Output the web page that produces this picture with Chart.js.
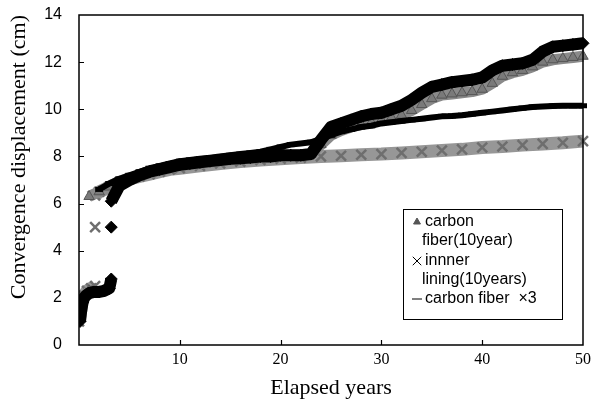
<!DOCTYPE html>
<html><head><meta charset="utf-8">
<script src="https://cdn.jsdelivr.net/npm/chart.js@4.4.1/dist/chart.umd.min.js"></script>
<style>html,body{margin:0;padding:0;background:#fff}</style>
</head><body>
<canvas id="c" width="591" height="405"></canvas>
<script>
// ---- data (null = break between measured segments) ----
const xTickValues = [0, 10, 20, 30, 40, 50];
const yTickValues = [0, 2, 4, 6, 8, 10, 12, 14];

const diamondYears = [0.1,0.2,0.35,0.5,0.7,1,1.5,2,2.5,3,3.2, 3.2, 3.2, 3.2, 3.2,4,5,6,7,8,9,10,11,12,13,14,15,16,17,18,19,20,21,22,23,24,25,26,27,28,29,30,31,32,33,34,35,36,37,38,39,40,41,42,43,44,45,46,47,48,49,50];
const diamondVals  = [1.0,1.4,1.8,2.0,2.1,2.2,2.25,2.25,2.3,2.4,2.8, null, 5.0, null, 6.1,6.75,7.0,7.2,7.35,7.45,7.55,7.65,7.7,7.75,7.8,7.85,7.9,7.92,7.95,8.0,8.0,8.05,8.05,8.05,8.1,8.7,9.25,9.4,9.55,9.7,9.8,9.85,10.0,10.15,10.4,10.7,10.95,11.05,11.15,11.2,11.25,11.35,11.65,11.85,11.9,11.95,12.1,12.45,12.65,12.7,12.75,12.8];

const triangleYears = [0.1,0.3,0.6,1, 1, 1,2,3,4,5,6,7,8,9,10,11,12,13,14,15,16,17,18,19,20,21,22,23,24,25,26,27,28,29,30,31,32,33,34,35,36,37,38,39,40,41,42,43,44,45,46,47,48,49,50];
const triangleVals  = [1.2,1.8,2.1,2.3, null, 6.3,6.5,6.7,6.9,7.05,7.2,7.3,7.4,7.5,7.6,7.65,7.7,7.75,7.8,7.85,7.9,7.92,7.95,8.0,8.0,8.05,8.05,8.1,8.5,8.9,9.1,9.25,9.35,9.45,9.55,9.65,9.75,9.95,10.2,10.45,10.6,10.65,10.7,10.75,10.85,11.1,11.4,11.55,11.65,11.8,12.0,12.1,12.15,12.2,12.25];

const liningYears = [0,0.15,0.3,0.5,0.8,1.2,1.6, 1.6, 1.6, 1.6, 1.6,2,3,4,5,6,7,8,9,10,12,14,16,18,20,22,24,26,28,30,32,34,36,38,40,42,44,46,48,50];
const liningVals  = [1.0,1.4,1.8,2.1,2.3,2.4,2.5, null, 5.0, null, 6.35,6.5,6.7,6.9,7.05,7.15,7.25,7.35,7.45,7.5,7.6,7.7,7.78,7.85,7.9,7.95,8.0,8.03,8.07,8.1,8.15,8.2,8.25,8.3,8.38,8.42,8.48,8.53,8.58,8.65];

const tripleYears = [0.1,0.4,0.8,1.5,2.5,3, 3, 2,3,4,5,6,7,8,9,10,11,12,13,14,15,16,17,18,19,20,21,22,23,24,25,26,27,28,29,30,31,32,33,34,35,36,37,38,39,40,41,42,43,44,45,46,47,48,49,50];
const tripleVals  = [1.3,1.9,2.2,2.3,2.3,2.35, null, 6.6,6.85,7.05,7.2,7.35,7.5,7.6,7.7,7.8,7.85,7.9,7.95,8.0,8.05,8.1,8.15,8.2,8.3,8.4,8.5,8.55,8.6,8.75,8.9,9.05,9.15,9.25,9.3,9.4,9.45,9.5,9.55,9.6,9.65,9.7,9.72,9.75,9.8,9.85,9.9,9.95,10.0,10.05,10.1,10.12,10.14,10.15,10.15,10.15];

const seriesLabels = ['carbon fiber(10year)', 'innner lining(10years)', 'carbon fiber ×3', ''];
const legendLines = [['carbon', 'fiber(10year)'], ['innner', 'lining(10years)'], ['carbon fiber  ×3']];

const pts = (xs, ys) => xs.map((x, i) => ({x: x, y: ys[i]}));
const clipBox = {left: 0, top: 0, right: 8, bottom: 0};

const frameAndTicks = {
  id: 'frameAndTicks',
  afterDraw(chart) {
    const {ctx, chartArea: a, scales} = chart;
    ctx.save();
    ctx.strokeStyle = '#000';
    ctx.lineWidth = 1.5;
    ctx.strokeRect(a.left, a.top, a.right - a.left, a.bottom - a.top);
    ctx.lineWidth = 1.2;
    ctx.beginPath();
    yTickValues.forEach(v => {
      if (v === 0 || v === 14) return;
      const y = Math.round(scales.y.getPixelForValue(v)) + 0.5;
      ctx.moveTo(a.left, y); ctx.lineTo(a.left + 5, y);
    });
    xTickValues.forEach(v => {
      if (v === 0 || v === 50) return;
      const x = Math.round(scales.x.getPixelForValue(v)) + 0.5;
      ctx.moveTo(x, a.bottom); ctx.lineTo(x, a.bottom - 5);
    });
    ctx.stroke();
    ctx.restore();
  }
};

const boxLegend = {
  id: 'boxLegend',
  afterDraw(chart) {
    const ctx = chart.ctx;
    const bx = 403, by = 209, bw = 159, bh = 110;
    ctx.save();
    ctx.fillStyle = '#fff';
    ctx.fillRect(bx, by, bw, bh);
    ctx.strokeStyle = '#000';
    ctx.lineWidth = 1;
    ctx.strokeRect(bx + 0.5, by + 0.5, bw, bh);
    ctx.font = '16px "Liberation Sans", Arial, sans-serif';
    ctx.textBaseline = 'middle';
    const rows = [
      {y: 222, style: 'triangle', r: 4, color: '#555'},
      {y: 261, style: 'crossRot', r: 6, color: '#000'},
      {y: 299, style: 'line', r: 5, color: '#000'}
    ];
    const lineGap = 19;
    rows.forEach((row, i) => {
      ctx.fillStyle = row.color;
      ctx.strokeStyle = row.color;
      Chart.helpers.drawPoint(ctx, {pointStyle: row.style, radius: row.r, rotation: 0, borderWidth: row.style === 'line' ? 4 : 2.5}, 417, row.y);
      ctx.fillStyle = '#000';
      legendLines[i].forEach((t, j) => ctx.fillText(t, j === 0 ? 425 : 422, row.y + j * lineGap));
    });
    ctx.restore();
  }
};

const zeroPad = s => { s.paddingTop = 0; s.paddingBottom = 0; s.paddingLeft = 0; s.paddingRight = 0; };

new Chart(document.getElementById('c'), {
  type: 'scatter',
  data: {
    datasets: [
      {label: seriesLabels[0], data: pts(triangleYears, triangleVals), showLine: true, spanGaps: false,
       borderColor: '#8a8a8a', borderWidth: 11, pointStyle: 'triangle', pointRadius: 6,
       pointBackgroundColor: '#7a7a7a', pointBorderColor: '#555', pointBorderWidth: 1, order: 3, clip: clipBox},
      {label: seriesLabels[1], data: pts(liningYears, liningVals), showLine: true, spanGaps: false,
       borderColor: '#979797', borderWidth: 13, pointStyle: 'crossRot', pointRadius: 7,
       pointBorderColor: '#6e6e6e', pointBorderWidth: 2.5, order: 4, clip: clipBox},
      {label: seriesLabels[2], data: pts(tripleYears, tripleVals), showLine: true, spanGaps: false,
       borderColor: '#000', borderWidth: 6, pointStyle: 'line', pointRadius: 4,
       pointBorderColor: '#000', pointBorderWidth: 5, order: 2, clip: clipBox},
      {label: seriesLabels[3], data: pts(diamondYears, diamondVals), showLine: true, spanGaps: false,
       borderColor: '#000', borderWidth: 12, pointStyle: 'rectRot', pointRadius: 6,
       pointBackgroundColor: '#000', pointBorderColor: '#000', pointBorderWidth: 1, order: 1, clip: clipBox}
    ]
  },
  options: {
    responsive: false,
    animation: false,
    devicePixelRatio: 1,
    layout: {autoPadding: false, padding: {top: 15, right: 8, left: 0, bottom: 0}},
    plugins: {legend: {display: false}, tooltip: {enabled: false}},
    elements: {line: {tension: 0, borderCapStyle: 'butt', borderJoinStyle: 'round'}},
    scales: {
      x: {
        type: 'linear', min: 0, max: 50,
        afterBuildTicks: s => { s.ticks = xTickValues.map(v => ({value: v})); },
        afterFit: s => { s.height = 60; zeroPad(s); },
        grid: {display: false, drawTicks: false},
        border: {display: false},
        ticks: {padding: 5, color: '#000', font: {family: '"Liberation Serif", "Times New Roman", serif', size: 16},
                callback: v => v === 0 ? '' : String(v), maxRotation: 0},
        title: {display: true, text: 'Elapsed years', color: '#000',
                font: {family: '"Liberation Serif", "Times New Roman", serif', size: 22},
                padding: {top: 4, bottom: 4}}
      },
      y: {
        min: 0, max: 14,
        afterBuildTicks: s => { s.ticks = yTickValues.map(v => ({value: v})); },
        afterFit: s => { s.width = 79; zeroPad(s); },
        grid: {display: false, drawTicks: false},
        border: {display: false},
        ticks: {padding: 17, color: '#000', font: {family: '"Liberation Sans", Arial, sans-serif', size: 16}},
        title: {display: true, text: 'Convergence displacement (cm)', align: 'end', color: '#000',
                font: {family: '"Liberation Serif", "Times New Roman", serif', size: 22},
                padding: {top: 6, bottom: 4}}
      }
    }
  },
  plugins: [frameAndTicks, boxLegend]
});
</script>
</body></html>
